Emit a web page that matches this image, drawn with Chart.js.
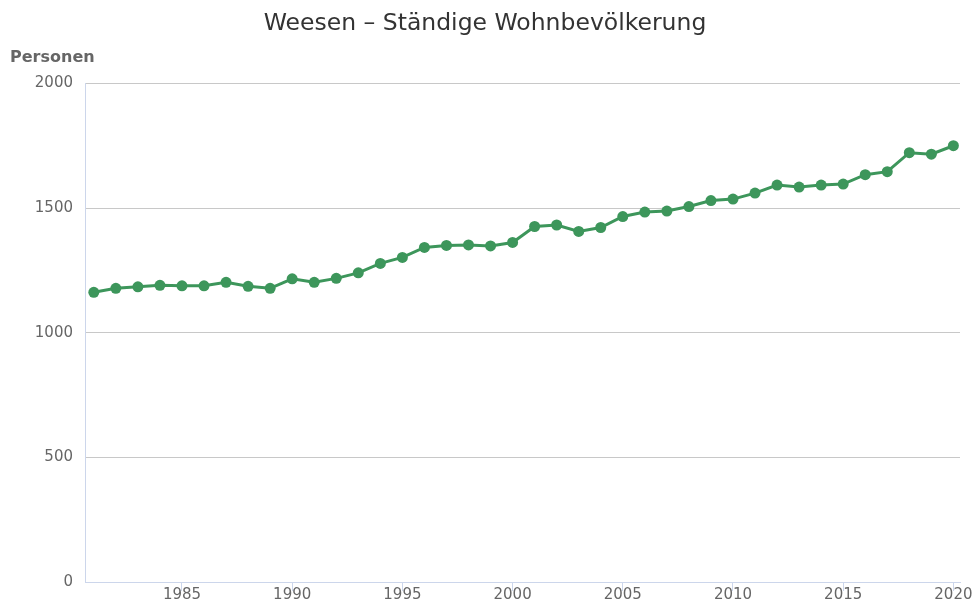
<!DOCTYPE html>
<html>
<head>
<meta charset="utf-8">
<script src="https://cdn.jsdelivr.net/npm/chart.js@4/dist/chart.umd.min.js"></script>
<style>
  body { margin: 0; background: #fff; }
  #wrap { width: 973px; height: 604px; }
</style>
</head>
<body>
<div id="wrap"><canvas id="popChart"></canvas></div>
<script>
const years = [1981, 1982, 1983, 1984, 1985, 1986, 1987, 1988, 1989, 1990,
               1991, 1992, 1993, 1994, 1995, 1996, 1997, 1998, 1999, 2000,
               2001, 2002, 2003, 2004, 2005, 2006, 2007, 2008, 2009, 2010,
               2011, 2012, 2013, 2014, 2015, 2016, 2017, 2018, 2019, 2020];
const population = [1162, 1178, 1184, 1190, 1188, 1188, 1202, 1186, 1178, 1216,
                    1202, 1218, 1240, 1278, 1302, 1342, 1350, 1352, 1348, 1362,
                    1426, 1432, 1406, 1422, 1466, 1484, 1488, 1506, 1530, 1536,
                    1560, 1592, 1584, 1592, 1596, 1634, 1646, 1722, 1716, 1750];
const xTicks = [1985, 1990, 1995, 2000, 2005, 2010, 2015, 2020];
const yTicks = [0, 500, 1000, 1500, 2000];

const chartTitle = 'Weesen – Ständige Wohnbevölkerung';
const unitLabel = 'Personen';

const green = '#3d965b';

const ctx = document.getElementById('popChart').getContext('2d');
const chart = new Chart(ctx, {
    type: 'line',
    data: {
        datasets: [{
            label: 'Ständige Wohnbevölkerung',
            data: years.map((y, i) => ({ x: y, y: population[i] })),
            borderColor: green,
            backgroundColor: green,
            borderWidth: 3,
            pointRadius: 5.5,
            pointHoverRadius: 6,
            pointBorderWidth: 0,
            tension: 0
        }]
    },
    options: {
        responsive: true,
        maintainAspectRatio: false,
        animation: false,
        layout: {
            padding: { left: 10, right: 13, top: 10, bottom: 0 }
        },
        plugins: {
            legend: { display: false },
            title: {
                display: true,
                text: chartTitle,
                color: '#333333',
                font: { family: 'DejaVu Sans', size: 23.5, weight: 'normal' },
                padding: { top: 0, bottom: 10 }
            },
            subtitle: {
                display: true,
                text: unitLabel,
                align: 'start',
                color: '#666666',
                font: { family: 'DejaVu Sans', size: 16, weight: 'bold' },
                padding: { top: 0, bottom: 16 }
            }
        },
        scales: {
            x: {
                type: 'linear',
                min: 1980.6,
                max: 2020.3,
                afterBuildTicks: function(scale) {
                    scale.ticks = xTicks.map(v => ({ value: v }));
                },
                afterFit: function(scale) {
                    scale.height = 22;
                },
                ticks: {
                    autoSkip: false,
                    maxRotation: 0,
                    padding: -5,
                    color: '#666666',
                    font: { family: 'DejaVu Sans', size: 15 },
                    callback: function(value) {
                        return String(value);
                    }
                },
                grid: {
                    drawOnChartArea: false,
                    drawTicks: true,
                    tickLength: 9,
                    color: '#ccd6eb'
                },
                border: { color: '#ccd6eb', width: 1 }
            },
            y: {
                min: 0,
                max: 2000,
                afterBuildTicks: function(scale) {
                    scale.ticks = yTicks.map(v => ({ value: v }));
                },
                afterFit: function(scale) {
                    scale.width = 75;
                },
                ticks: {
                    padding: 12,
                    color: '#666666',
                    font: { family: 'DejaVu Sans', size: 15 },
                    callback: function(value) {
                        return String(value);
                    }
                },
                grid: {
                    drawTicks: false,
                    color: '#c8c8c8'
                },
                border: { color: '#ccd6eb', width: 1 }
            }
        }
    }
});
</script>
</body>
</html>
